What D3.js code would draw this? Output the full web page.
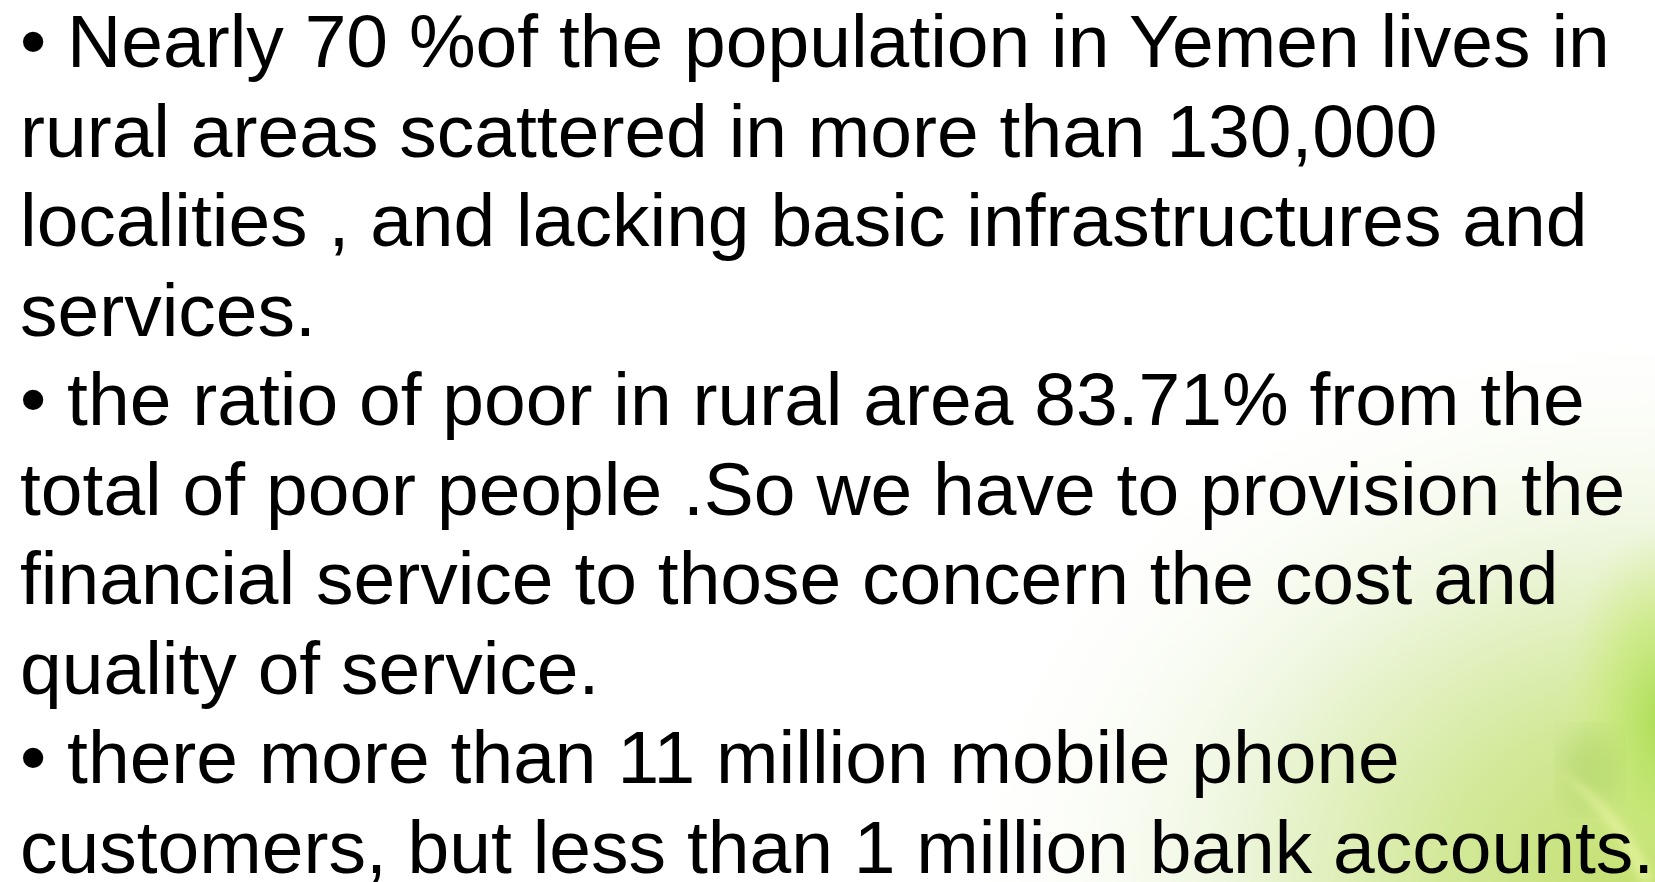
<!DOCTYPE html>
<html>
<head>
<meta charset="utf-8">
<script src="https://cdn.jsdelivr.net/npm/d3@7"></script>
<style>
  html, body { margin: 0; padding: 0; background: #fff; overflow: hidden; }
  svg { display: block; }
</style>
</head>
<body>
<svg id="svg"></svg>
<script>
// slide text, one entry per rendered line
const lines = [
    "• Nearly 70 %of the population in Yemen lives in",
    "rural areas scattered in more than 130,000",
    "localities , and lacking basic infrastructures and",
    "services.",
    "• the ratio of poor in rural area 83.71% from the",
    "total of poor people .So we have to provision the",
    "financial service to those concern the cost and",
    "quality of service.",
    "• there more than 11 million mobile phone",
    "customers, but less than 1 million bank accounts."
];
const lineIndex = [0, 1, 2, 3, 4, 5, 6, 7, 8, 9];
// baselines (first and last line)
const baselineRange = [67, 873];

const width = 1655;
const height = 882;
const fontSize = 75;

let svg = d3.select("#svg")
    .attr("width", width)
    .attr("height", height);

const defs = svg.append("defs");

// soft lime glow in the lower right corner
const glow = defs.append("radialGradient")
    .attr("id", "glow")
    .attr("gradientUnits", "userSpaceOnUse")
    .attr("cx", 1655).attr("cy", 882)
    .attr("r", 720)
    .attr("gradientTransform", "translate(1655,882) scale(1,0.8) translate(-1655,-882)");
glow.append("stop").attr("offset", "0%").attr("stop-color", "#c2df6c");
glow.append("stop").attr("offset", "30%").attr("stop-color", "#d3e99a");
glow.append("stop").attr("offset", "60%").attr("stop-color", "#eef6de");
glow.append("stop").attr("offset", "100%").attr("stop-color", "#ffffff").attr("stop-opacity", 0);

// brighter green along the right edge
const spot = defs.append("radialGradient")
    .attr("id", "spot")
    .attr("gradientUnits", "userSpaceOnUse")
    .attr("cx", 1665).attr("cy", 720)
    .attr("r", 130)
    .attr("gradientTransform", "translate(1665,720) scale(0.8,1.5) translate(-1665,-720)");
spot.append("stop").attr("offset", "0%").attr("stop-color", "#a4dc48").attr("stop-opacity", 0.9);
spot.append("stop").attr("offset", "55%").attr("stop-color", "#c6e874").attr("stop-opacity", 0.6);
spot.append("stop").attr("offset", "100%").attr("stop-color", "#d3ec8e").attr("stop-opacity", 0);

defs.append("filter").attr("id", "blur")
    .append("feGaussianBlur").attr("stdDeviation", 5);
defs.append("filter").attr("id", "blur2")
    .append("feGaussianBlur").attr("stdDeviation", 14);

svg.append("rect")
    .attr("width", width).attr("height", height)
    .attr("fill", "#ffffff");
svg.append("rect")
    .attr("width", width).attr("height", height)
    .attr("fill", "url(#glow)");
svg.append("rect")
    .attr("width", width).attr("height", height)
    .attr("fill", "url(#spot)");

// olive shade behind the blade
svg.append("ellipse")
    .attr("cx", 1590).attr("cy", 770)
    .attr("rx", 30).attr("ry", 40)
    .attr("fill", "#a9cf62")
    .attr("opacity", 0.45)
    .attr("filter", "url(#blur2)");

// faint grass blade
svg.append("path")
    .attr("d", "M1555,770 Q1610,810 1640,882 L1655,882 Q1620,800 1555,770 Z")
    .attr("fill", "#e3f29c")
    .attr("opacity", 0.85)
    .attr("filter", "url(#blur)");

const yScale = d3.scaleLinear()
    .domain([0, lines.length - 1])
    .range(baselineRange);

svg.append("g")
    .attr("class", "slide-text")
    .selectAll("text")
    .data(lineIndex)
    .join("text")
    .attr("x", 20)
    .attr("y", d => yScale(d))
    .style("font-family", "'Liberation Sans', Arial, sans-serif")
    .style("font-size", fontSize + "px")
    .style("fill", "#000")
    .text(d => lines[d]);
</script>
</body>
</html>
